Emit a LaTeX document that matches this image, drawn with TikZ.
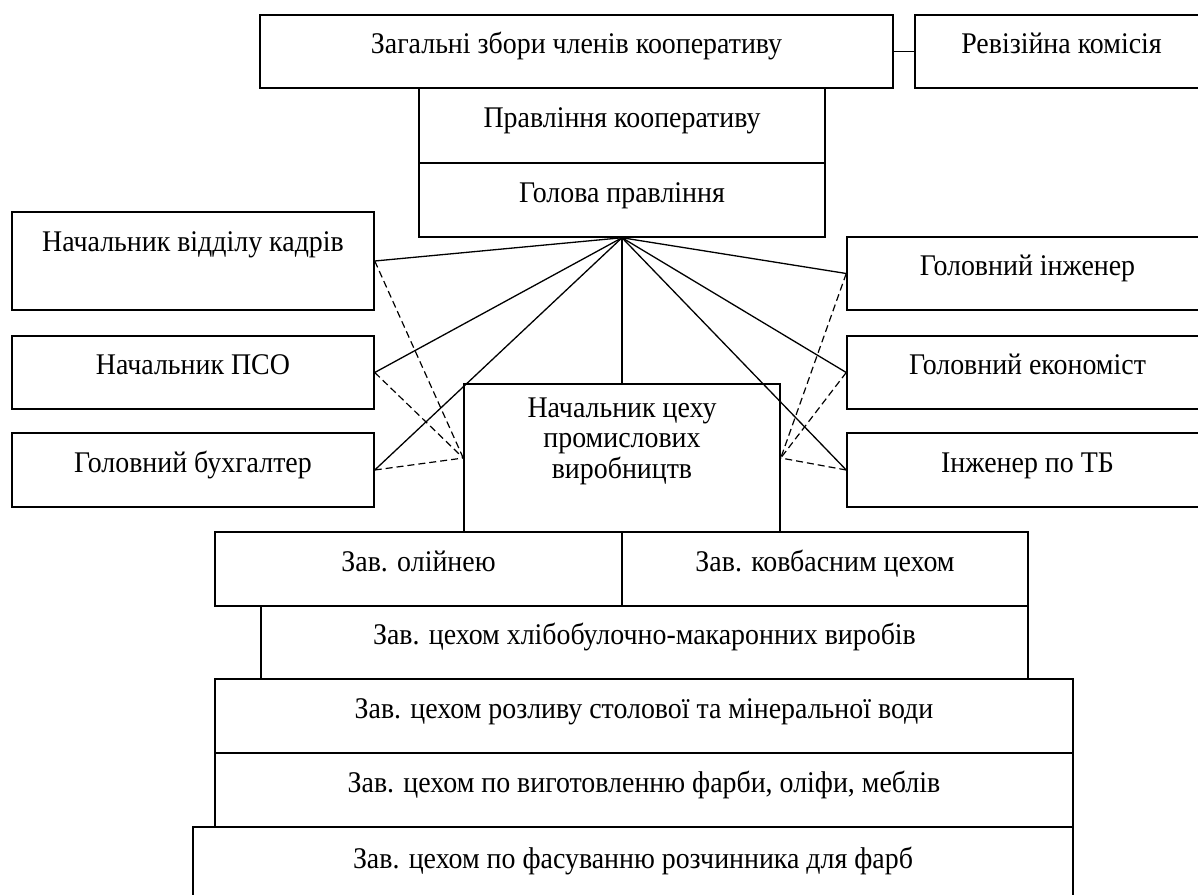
\documentclass[tikz,border=0pt]{standalone}
\usepackage{fontspec}
\setmainfont{Liberation Serif}[FakeStretch=0.93]
\begin{document}
\begin{tikzpicture}[x=1pt,y=-1pt,
  box/.style={draw, line width=1.5pt, rectangle, inner sep=0pt, text height=20pt, text depth=16pt, font=\fontsize{30pt}{30pt}\selectfont},
  conn/.style={line width=1.3pt},
  dconn/.style={line width=1.2pt, dash pattern=on 7pt off 4pt}]
\clip (0,0) rectangle (1198,894);
% top
\node[box, minimum width=633pt, minimum height=73pt] (zbory) at (576.5,51.5) {Загальні збори членів кооперативу};
\node[box, minimum width=293pt, minimum height=73pt] (revk) at (1061.5,51.5) {Ревізійна комісія};
\node[box, minimum width=406pt, minimum height=75pt] (pravl) at (622,125.5) {Правління кооперативу};
\node[box, minimum width=406pt, minimum height=74pt] (golova) at (622,200) {Голова правління};
% left column
\node[box, minimum width=362pt, minimum height=98pt, text depth=39pt] (kadry) at (193,261) {Начальник відділу кадрів};
\node[box, minimum width=362pt, minimum height=73pt] (pso) at (193,372.5) {Начальник ПСО};
\node[box, minimum width=362pt, minimum height=74pt] (buh) at (193,470) {Головний бухгалтер};
% right column
\node[box, minimum width=361pt, minimum height=73pt] (inzh) at (1027.5,273.5) {Головний інженер};
\node[box, minimum width=361pt, minimum height=73pt] (ekon) at (1027.5,372.5) {Головний економіст};
\node[box, minimum width=361pt, minimum height=74pt] (tb) at (1027.5,470) {Інженер по ТБ};
% centre
\node[box, minimum width=316pt, minimum height=148pt, text depth=40pt] (ceh) at (622,458)
  {\begin{tabular}{@{}c@{}}Начальник цеху\\промислових\\виробництв\end{tabular}};
% bottom stack
\node[box, minimum width=407pt, minimum height=74pt] (oliy) at (418.5,569) {Зав. олійнею};
\node[box, minimum width=406pt, minimum height=74pt] (kovb) at (825,569) {Зав. ковбасним цехом};
\node[box, minimum width=767pt, minimum height=73pt] (hlib) at (644.5,642.5) {Зав. цехом хлібобулочно-макаронних виробів};
\node[box, minimum width=858pt, minimum height=74pt] (rozl) at (644,716) {Зав. цехом розливу столової та мінеральної води};
\node[box, minimum width=858pt, minimum height=74pt] (vyg) at (644,790) {Зав. цехом по виготовленню фарби, оліфи, меблів};
\node[box, minimum width=880pt, minimum height=78pt] (fas) at (633,866) {Зав. цехом по фасуванню розчинника для фарб};
% connectors
\draw[conn] (zbory.east) -- (revk.west);
\foreach \t in {kadry.east, pso.east, buh.east, inzh.west, ekon.west, tb.west, ceh.north}
  \draw[conn] (golova.south) -- (\t);
\foreach \t in {kadry.east, pso.east, buh.east}
  \draw[dconn] (\t) -- (ceh.west);
\foreach \t in {inzh.west, ekon.west, tb.west}
  \draw[dconn] (\t) -- (ceh.east);
\end{tikzpicture}
\end{document}
